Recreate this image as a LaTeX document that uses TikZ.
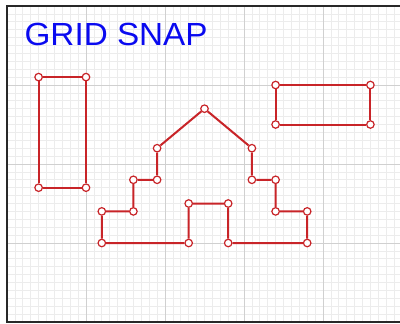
\documentclass[tikz,border=0pt]{standalone}
\usepackage{fontspec}
\setmainfont{Liberation Sans}
\definecolor{edgered}{RGB}{200,36,40}
\definecolor{minorgrid}{RGB}{236,236,236}
\definecolor{majorgrid}{RGB}{208,208,208}
\definecolor{framecol}{RGB}{40,40,40}
\definecolor{titleblue}{RGB}{10,10,240}
\tikzset{
  vtx/.style={circle,draw=edgered,fill=white,line width=1.2bp,inner sep=0pt,minimum size=7.5bp},
  edge/.style={draw=edgered,line width=2bp},
  minorline/.style={draw=minorgrid,line width=0.8bp},
  majorline/.style={draw=majorgrid,line width=0.9bp},
  frameline/.style={draw=framecol,line width=2.5bp},
}
\begin{document}
\begin{tikzpicture}
\fill[white] (0,0) rectangle (400bp,-324bp);
\useasboundingbox (0,0) rectangle (400bp,-324bp);
\begin{scope}[shift={(7bp,-6bp)},x=7.9bp,y=-7.9bp]
  % grid
  \foreach \i in {1,...,49} {\draw[minorline] (\i,0) -- (\i,40);}
  \foreach \j in {1,...,39} {\draw[minorline] (0,\j) -- (49.8,\j);}
  \foreach \i in {10,20,30,40} {\draw[majorline] (\i,0) -- (\i,40);}
  \foreach \j in {10,20,30} {\draw[majorline] (0,\j) -- (49.8,\j);}
  % frame
  \coordinate (tl) at (0,0);
  \coordinate (tr) at (49.8,0);
  \coordinate (bl) at (0,40);
  \coordinate (br) at (49.8,40);
  \draw[frameline] (tr) -- (tl) -- (bl) -- (br);
  % title
  \node[anchor=base west,inner sep=0pt,text=titleblue,xscale=1.04,font=\fontsize{32bp}{32bp}\selectfont] (title) at (2.2,4.94) {GRID SNAP};
  % left rectangle
  \node[vtx] (L1) at (4,9) {};
  \node[vtx] (L2) at (10,9) {};
  \node[vtx] (L3) at (10,23) {};
  \node[vtx] (L4) at (4,23) {};
  % right rectangle
  \node[vtx] (R1) at (34,10) {};
  \node[vtx] (R2) at (46,10) {};
  \node[vtx] (R3) at (46,15) {};
  \node[vtx] (R4) at (34,15) {};
  % house
  \node[vtx] (H1) at (25,13) {};
  \node[vtx] (H2) at (31,18) {};
  \node[vtx] (H3) at (31,22) {};
  \node[vtx] (H4) at (34,22) {};
  \node[vtx] (H5) at (34,26) {};
  \node[vtx] (H6) at (38,26) {};
  \node[vtx] (H7) at (38,30) {};
  \node[vtx] (H8) at (28,30) {};
  \node[vtx] (H9) at (28,25) {};
  \node[vtx] (H10) at (23,25) {};
  \node[vtx] (H11) at (23,30) {};
  \node[vtx] (H12) at (12,30) {};
  \node[vtx] (H13) at (12,26) {};
  \node[vtx] (H14) at (16,26) {};
  \node[vtx] (H15) at (16,22) {};
  \node[vtx] (H16) at (19,22) {};
  \node[vtx] (H17) at (19,18) {};
  \draw[edge] (L1) -- (L2) -- (L3) -- (L4) -- (L1);
  \draw[edge] (R1) -- (R2) -- (R3) -- (R4) -- (R1);
  \draw[edge] (H1) -- (H2) -- (H3) -- (H4) -- (H5) -- (H6) -- (H7) -- (H8) -- (H9)
     -- (H10) -- (H11) -- (H12) -- (H13) -- (H14) -- (H15) -- (H16) -- (H17) -- (H1);
\end{scope}
\end{tikzpicture}
\end{document}
